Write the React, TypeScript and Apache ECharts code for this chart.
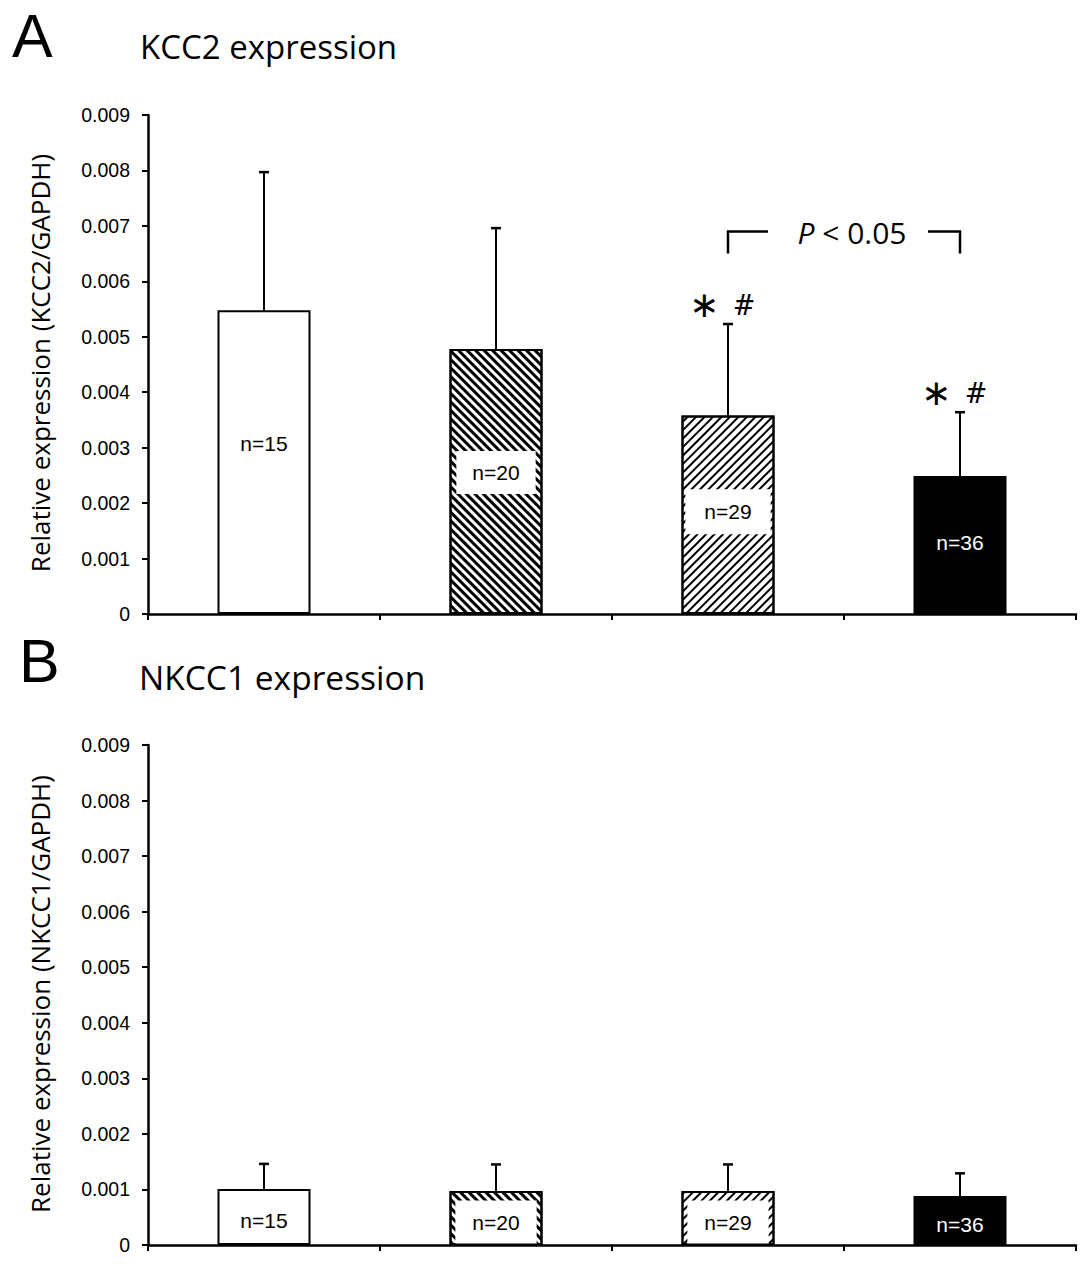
import React, { useEffect, useRef } from 'react';
import * as echarts from 'echarts';

// groups have no axis labels in the figure
const groups = ['Group 1', 'Group 2', 'Group 3', 'Group 4'];
const sampleSizes = ['n=15', 'n=20', 'n=29', 'n=36'];

const kcc2Mean = [0.00548, 0.00478, 0.00358, 0.00249];
const kcc2Sd = [0.00249, 0.00218, 0.00165, 0.00115];
const kcc2Marks = ['', '', '∗', '∗'];
const kcc2Hash = ['', '', '#', '#'];

const nkcc1Mean = [0.00101, 0.00097, 0.00097, 0.00088];
const nkcc1Sd = [0.00045, 0.00048, 0.00048, 0.00041];

// comparison bracket between group 3 and group 4
const bracketPair = [2, 3];
const bracketLevel = 0.0069;

const Y_MIN = 0;
const Y_MAX = 0.009;
const Y_STEP = 0.001;

const SANS = '"Open Sans", "Noto Sans", sans-serif';
const ARIAL = '"Liberation Sans", Arial, sans-serif';

const hatch = (rotation: number, thick: number) => ({
  symbol: 'rect',
  symbolSize: 1,
  dashArrayX: [1, 0],
  dashArrayY: [thick, 5 - thick],
  rotation,
  color: '#000',
});

const barStyles = [
  { color: '#fff', borderColor: '#000', borderWidth: 2 },
  { color: '#fff', borderColor: '#000', borderWidth: 2, decal: hatch(Math.PI / 4, 2.2) },
  { color: '#fff', borderColor: '#000', borderWidth: 2, decal: hatch(-Math.PI / 4, 1.9) },
  { color: '#000', borderColor: '#000', borderWidth: 2 },
];

const topLabelOffsets = [-19, -9, -3, -2];
const topLabelPads = [[11, 16], [11, 16], [12, 19], [0, 0]];

function barLabel(i: number, dy: number, pad: number[]) {
  const boxed = i === 1 || i === 2;
  return {
    show: true,
    position: 'inside',
    offset: [0, dy],
    formatter: sampleSizes[i],
    fontFamily: ARIAL,
    fontSize: 21,
    color: i === 3 ? '#fff' : '#000',
    backgroundColor: boxed ? '#fff' : 'transparent',
    padding: boxed ? pad : 0,
  };
}

function errorSeries(idx: number, means: number[], sds: number[], marks?: string[], hashes?: string[]) {
  return {
    type: 'custom',
    xAxisIndex: idx,
    yAxisIndex: idx,
    z: 5,
    data: means.map((m, i) => [i, m, m + sds[i]]),
    renderItem: (params: any, api: any) => {
      const i = api.value(0);
      const base = api.coord([i, api.value(1)]);
      const top = api.coord([i, api.value(2)]);
      const children: any[] = [
        { type: 'line', shape: { x1: base[0], y1: base[1], x2: top[0], y2: top[1] }, style: { stroke: '#000', lineWidth: 2 } },
        { type: 'line', shape: { x1: top[0] - 5, y1: top[1], x2: top[0] + 5, y2: top[1] }, style: { stroke: '#000', lineWidth: 2.5 } },
      ];
      const mk = marks ? marks[params.dataIndex] : '';
      const hs = hashes ? hashes[params.dataIndex] : '';
      if (mk) {
        children.push({
          type: 'text',
          style: { text: mk, x: top[0] - 24, y: top[1] - 20, align: 'center', verticalAlign: 'middle', fontFamily: '"DejaVu Sans", sans-serif', fontSize: 36, fill: '#000' },
        });
      }
      if (hs) {
        children.push({
          type: 'text',
          style: { text: hs, x: top[0] + 16, y: top[1] - 19, align: 'center', verticalAlign: 'middle', fontFamily: '"DejaVu Serif", serif', fontSize: 27, fill: '#000' },
        });
      }
      return { type: 'group', children };
    },
  };
}

function axisPair(idx: number, top: number, bottom: number) {
  return {
    grid: { left: 148, right: 11, top, bottom },
    xAxis: {
      type: 'category',
      gridIndex: idx,
      data: groups,
      axisLine: { show: true, lineStyle: { color: '#000', width: 2.5 } },
      axisTick: { show: true, length: 6, lineStyle: { color: '#000', width: 2 } },
      axisLabel: { show: false },
      splitLine: { show: false },
    },
    yAxis: {
      type: 'value',
      gridIndex: idx,
      min: Y_MIN,
      max: Y_MAX,
      interval: Y_STEP,
      axisLine: { show: true, lineStyle: { color: '#000', width: 2.5 } },
      axisTick: { show: true, length: 6, lineStyle: { color: '#000', width: 2 } },
      splitLine: { show: false },
      axisLabel: {
        color: '#000',
        fontFamily: ARIAL,
        fontSize: 19.5,
        margin: 18,
        formatter: (v: number) => (v === 0 ? '0' : v.toFixed(3)),
      },
    },
  };
}

export default function App() {
  const ref = useRef<HTMLDivElement | null>(null);

  useEffect(() => {
    if (!ref.current) return;
    const chart = echarts.init(ref.current, undefined, { renderer: 'svg' });
    const a = axisPair(0, 115, 650);
    const b = axisPair(1, 745, 19);

    chart.setOption({
      animation: false,
      backgroundColor: '#fff',
      grid: [a.grid, b.grid],
      xAxis: [a.xAxis, b.xAxis],
      yAxis: [a.yAxis, b.yAxis],
      graphic: [
        { type: 'text', x: 12, y: 36, style: { text: 'A', fontFamily: ARIAL, fontSize: 61, fill: '#000', verticalAlign: 'middle' } },
        { type: 'text', x: 140, y: 46, style: { text: 'KCC2 expression', fontFamily: SANS, fontSize: 33, fill: '#000', verticalAlign: 'middle' } },
        { type: 'text', x: 19, y: 661, style: { text: 'B', fontFamily: ARIAL, fontSize: 61, fill: '#000', verticalAlign: 'middle' } },
        { type: 'text', x: 139, y: 677, style: { text: 'NKCC1 expression', fontFamily: SANS, fontSize: 33.5, fill: '#000', verticalAlign: 'middle' } },
        { type: 'text', x: 40, y: 363, rotation: Math.PI / 2, style: { text: 'Relative expression (KCC2/GAPDH)', fontFamily: SANS, fontSize: 26, fill: '#000', align: 'center', verticalAlign: 'middle' } },
        { type: 'text', x: 40, y: 994, rotation: Math.PI / 2, style: { text: 'Relative expression (NKCC1/GAPDH)', fontFamily: SANS, fontSize: 26, fill: '#000', align: 'center', verticalAlign: 'middle' } },
      ],
      series: [
        {
          type: 'bar',
          xAxisIndex: 0,
          yAxisIndex: 0,
          barWidth: 93,
          data: kcc2Mean.map((v, i) => ({ value: v, itemStyle: barStyles[i], label: barLabel(i, topLabelOffsets[i], topLabelPads[i]) })),
        },
        errorSeries(0, kcc2Mean, kcc2Sd, kcc2Marks, kcc2Hash),
        {
          type: 'custom',
          xAxisIndex: 0,
          yAxisIndex: 0,
          z: 5,
          data: [[bracketPair[0], bracketPair[1], bracketLevel]],
          renderItem: (_p: any, api: any) => {
            const l = api.coord([api.value(0), api.value(2)]);
            const r = api.coord([api.value(1), api.value(2)]);
            const d = api.coord([api.value(0), api.value(2) - 0.0004]);
            const mid = (l[0] + r[0]) / 2 + 8;
            return {
              type: 'group',
              children: [
                { type: 'polyline', shape: { points: [[l[0], d[1]], [l[0], l[1]], [l[0] + 40, l[1]]] }, style: { stroke: '#000', lineWidth: 2.5, fill: 'none' } },
                { type: 'polyline', shape: { points: [[r[0] - 32, r[1]], [r[0], r[1]], [r[0], d[1]]] }, style: { stroke: '#000', lineWidth: 2.5, fill: 'none' } },
                {
                  type: 'text',
                  style: {
                    text: '{i|P} < 0.05',
                    x: mid,
                    y: l[1] + 1,
                    align: 'center',
                    verticalAlign: 'middle',
                    fontFamily: SANS,
                    fontSize: 30,
                    fill: '#000',
                    rich: { i: { fontStyle: 'italic', fontFamily: SANS, fontSize: 30 } },
                  },
                },
              ],
            };
          },
        },
        {
          type: 'bar',
          xAxisIndex: 1,
          yAxisIndex: 1,
          barWidth: 93,
          data: nkcc1Mean.map((v, i) => ({ value: v, itemStyle: barStyles[i], label: barLabel(i, 4, [11, 17]) })),
        },
        errorSeries(1, nkcc1Mean, nkcc1Sd),
      ],
    });
    return () => chart.dispose();
  }, []);

  return <div ref={ref} style={{ position: 'absolute', left: 0, top: 0, width: 1087, height: 1264 }} />;
}
